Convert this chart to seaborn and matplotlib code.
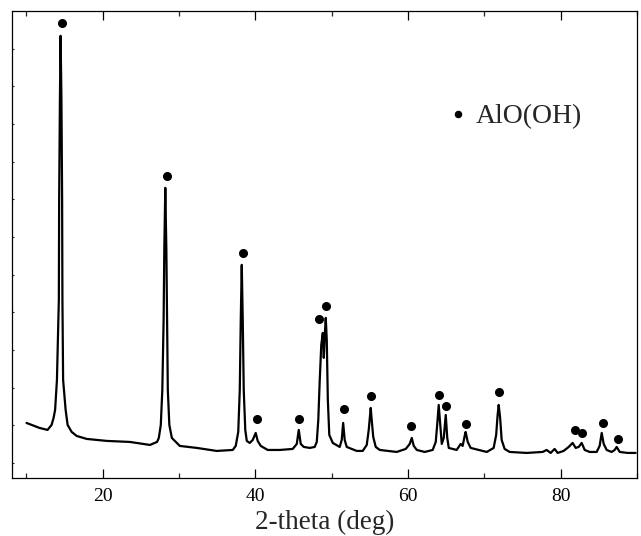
import numpy as np
import pandas as pd
import matplotlib
matplotlib.use("Agg")
import matplotlib.pyplot as plt
import seaborn as sns

sns.set_theme(style="ticks")
plt.rcParams['font.family'] = ['Liberation Serif', 'DejaVu Serif']

# XRD trace (2-theta in deg, intensity in arb. units)
two_theta = [10.00, 11.71, 12.76, 13.29, 13.55, 13.75, 13.99, 14.24, 14.28, 14.38,
             14.47, 14.58, 14.67, 14.71, 14.80, 15.13, 15.39, 15.92, 16.58, 17.89,
             20.53, 23.55, 26.18, 27.11,
             27.34, 27.60, 27.80, 27.97, 28.06, 28.19, 28.33, 28.42, 28.52, 28.72, 29.05,
             30.09, 32.32, 34.93, 37.03,
             37.42, 37.75, 37.95, 38.08, 38.21, 38.34, 38.47, 38.67, 38.87,
             39.25, 39.65, 40.04, 40.30, 40.70, 41.61, 43.19, 44.89,
             45.42, 45.68, 45.94, 46.34, 47.12, 47.77,
             48.04, 48.24, 48.43, 48.63, 48.83, 48.96, 49.09, 49.22, 49.35, 49.49, 49.68,
             50.14, 51.05,
             51.31, 51.50, 51.70, 51.97, 53.28, 54.06,
             54.59, 54.85, 55.02, 55.11, 55.24, 55.44, 55.77, 56.29,
             58.51, 59.70, 60.22, 60.49, 60.75, 61.15,
             62.18, 63.23, 63.63, 63.82, 64.02, 64.22, 64.42, 64.68, 64.94, 65.14, 65.34,
             66.37, 66.90, 67.16, 67.42, 67.55, 67.82, 68.21, 70.32,
             71.22, 71.55, 71.74, 71.88, 72.07, 72.27, 72.66, 73.32,
             75.55, 77.64, 78.16, 78.69, 79.21, 79.61, 80.39, 81.05, 81.57, 81.97,
             82.36, 82.76, 83.15, 83.80, 84.72, 85.11, 85.38, 85.64, 86.03, 86.68,
             87.08, 87.34, 87.74, 88.78, 89.83]
intensity = [1063, 930, 877, 1010, 1196, 1408, 2205, 4331, 6988, 9645,
             11345, 9645, 6988, 4331, 2205, 1408, 1010, 824, 717, 638,
             585, 558, 478, 558,
             664, 1010, 1940, 3800, 5659, 7307, 5659, 3800, 1940, 1010, 664,
             452, 399, 319, 345,
             452, 824, 1940, 3800, 5261, 3800, 1940, 877, 585,
             531, 611, 797, 585, 452, 345, 345, 372,
             505, 877, 505, 425, 399, 425,
             558, 1143, 2205, 3135, 3454, 2790, 3401, 3853, 3268, 1674, 744,
             531, 425,
             611, 1063, 611, 425, 319, 319,
             478, 877, 1275, 1461, 1143, 691, 425, 345,
             292, 372, 505, 664, 452, 345,
             292, 345, 558, 1010, 1541, 1010, 505, 664, 1275, 664, 399,
             345, 505, 452, 717, 824, 558, 399, 292,
             399, 744, 1275, 1541, 1196, 611, 372, 292,
             266, 292, 345, 266, 372, 266, 319, 425, 531, 399,
             425, 531, 345, 292, 292, 452, 797, 505, 345, 292,
             345, 425, 292, 266, 266]

# AlO(OH) peak markers
mark_theta = [14.63, 28.38, 38.34, 40.18, 45.68, 48.30, 49.31, 51.57, 55.11, 60.35,
              64.02, 64.94, 67.56, 71.88, 81.84, 82.75, 85.50, 87.47]
mark_int = [11690, 7626, 5580, 1169, 1169, 3826, 4171, 1435, 1780, 983,
            1807, 1514, 1036, 1886, 877, 797, 1063, 638]

trace = pd.DataFrame({'theta': two_theta, 'I': intensity})
marks = pd.DataFrame({'theta': mark_theta, 'I': mark_int})

fig = plt.figure(figsize=(6.41, 5.36), dpi=100)
ax = fig.add_axes([0.0187, 0.1082, 0.975, 0.871])

sns.lineplot(data=trace, x='theta', y='I', estimator=None, sort=False,
             color='black', lw=1.6, ax=ax)
ax.plot(marks['theta'], marks['I'], 'o', color='black', ms=5.5, label='AlO(OH)')

ax.set_xlim(8.1, 90)
ax.set_ylim(-400, 12000)
ax.set_xticks([20, 40, 60, 80])
ax.set_xticks([10, 30, 50, 70, 90], minor=True)
ax.set_yticks(np.arange(0, 12000, 1000))
ax.set_yticklabels([])
ax.tick_params(axis='x', which='major', direction='in', length=6.5, width=0.9,
               top=True, labelsize=14, colors='black', pad=7)
ax.tick_params(axis='x', which='minor', direction='in', length=3.5, width=0.9, top=True)
ax.tick_params(axis='y', which='major', direction='in', length=1.5, width=0.8, left=True)
for s in ax.spines.values():
    s.set_color('black')
    s.set_linewidth(0.9)

ax.set_xlabel('2-theta (deg)', fontsize=19.5, labelpad=4)
ax.set_ylabel('')
ax.legend(loc='upper left', bbox_to_anchor=(0.66, 0.855), frameon=False,
          fontsize=20, handlelength=0.6, handletextpad=0.35, markerscale=0.8)

fig.savefig('out.png', dpi=100)
